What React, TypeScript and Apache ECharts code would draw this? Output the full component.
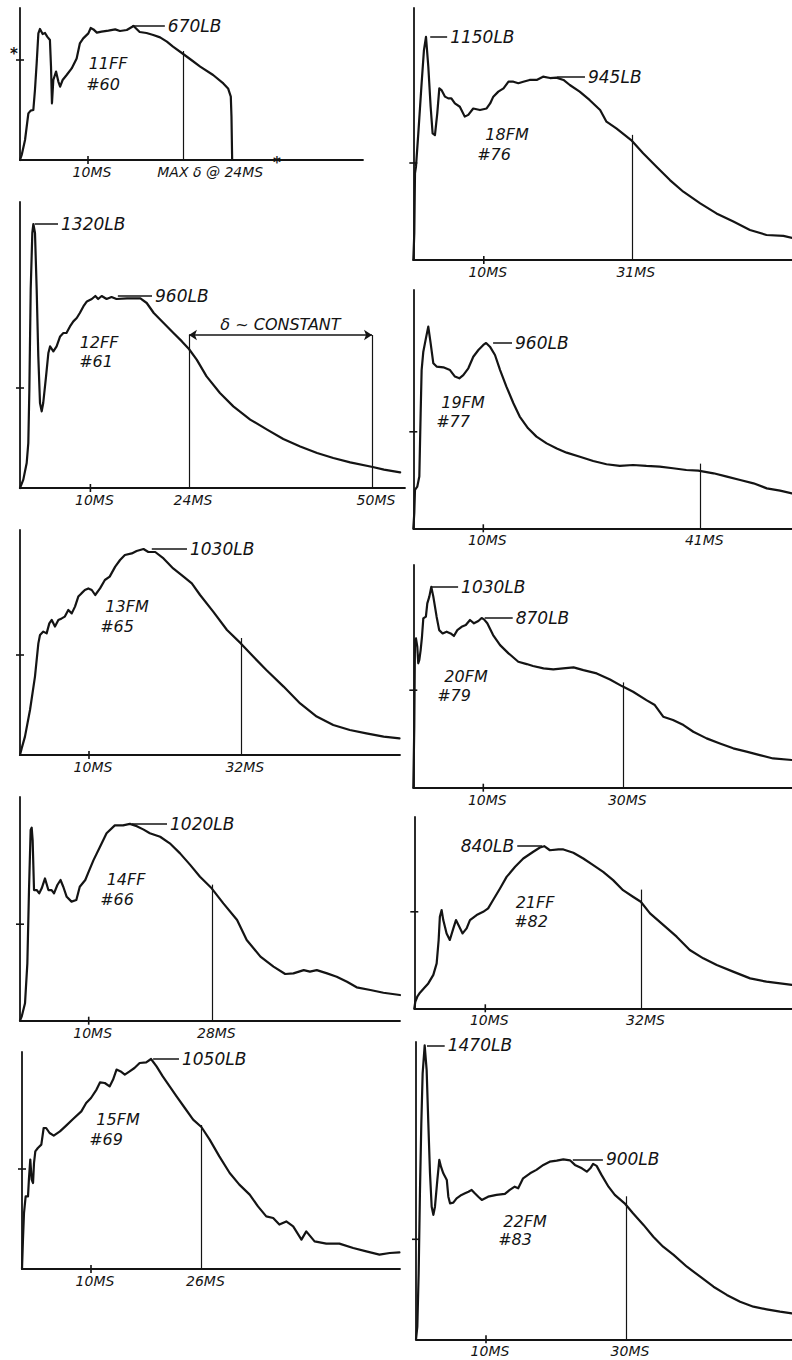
import React, { useEffect, useRef } from "react";
import * as echarts from "echarts";

type Pt = [number, number];

// Load (lb) against time (ms) for each impact test.
const test60: Pt[] = [[0,0],[0.25,25],[0.74,100],[1.23,233],[1.57,247],[1.96,250],[2.2,350],[2.45,483],[2.7,633],[2.94,655],[3.33,630],[3.68,635],[4.0,617],[4.4,600],[4.56,467],[4.7,283],[4.9,400],[5.3,442],[5.64,392],[5.9,367],[6.27,400],[6.86,425],[7.6,458],[8.33,508],[8.8,583],[9.3,608],[10.05,633],[10.4,660],[10.8,653],[11.3,637],[12.0,642],[13.0,647],[14.0,653],[14.7,645],[15.7,650],[16.7,670],[17.6,640],[18.6,635],[19.6,625],[20.6,613],[21.6,592],[22.5,567],[24.0,530],[25.2,500],[26.5,467],[28.4,425],[29.9,383],[30.6,358],[31.0,317],[31.1,217],[31.2,0]];
const test61: Pt[] = [[0,0],[0.47,42],[0.95,125],[1.18,225],[1.33,492],[1.52,992],[1.75,1275],[1.9,1320],[2.13,1275],[2.37,992],[2.6,658],[2.84,425],[3.08,383],[3.3,425],[3.7,558],[4.03,675],[4.27,708],[4.74,683],[5.2,708],[5.7,758],[6.16,775],[6.6,775],[7.1,808],[7.58,833],[8.06,850],[8.5,875],[9.0,908],[9.5,933],[10.2,945],[10.7,960],[11.1,945],[11.6,960],[12.3,945],[13.0,955],[13.7,945],[15.2,948],[17.1,948],[18.0,925],[19.0,875],[20.4,825],[21.8,775],[23.0,733],[24.0,695],[25.1,642],[26.5,558],[28.4,475],[30.3,408],[32.7,342],[35.1,292],[37.4,245],[39.8,208],[42.2,175],[44.5,150],[46.9,128],[50.1,105],[51.7,92],[54.0,78]];
const test65: Pt[] = [[0,0],[0.24,33],[0.72,92],[1.45,225],[2.17,392],[2.66,558],[2.9,600],[3.38,617],[3.86,608],[4.25,658],[4.6,675],[5.07,642],[5.56,675],[6.04,683],[6.5,692],[7.0,725],[7.5,708],[7.97,742],[8.45,792],[8.9,808],[9.4,825],[9.9,833],[10.4,825],[10.9,800],[11.6,833],[12.3,875],[13.0,892],[13.8,942],[14.5,975],[15.2,1000],[16.2,1008],[16.9,1020],[17.9,1030],[18.6,1015],[19.6,1015],[20.8,983],[22.2,933],[23.7,892],[24.9,858],[26.1,800],[28.0,717],[30.0,625],[32.0,558],[33.8,492],[35.7,425],[38.2,342],[40.6,258],[43.0,192],[45.4,150],[47.8,125],[50.2,108],[52.7,92],[55.0,83]];
const test66: Pt[] = [[0,0],[0.24,21],[0.73,90],[1.07,297],[1.31,677],[1.55,988],[1.7,1000],[1.84,936],[2.04,677],[2.43,677],[2.8,660],[3.16,686],[3.64,737],[4.13,677],[4.6,677],[4.95,660],[5.44,703],[5.9,729],[6.3,694],[6.8,642],[7.5,617],[8.2,625],[8.7,694],[9.5,729],[10.0,772],[10.7,832],[11.65,901],[12.6,971],[13.8,1012],[15.0,1012],[16.0,1020],[17.0,1008],[18.0,990],[18.9,971],[20.4,953],[21.8,919],[23.3,867],[24.8,806],[26.2,746],[27.9,686],[29.6,608],[31.6,522],[33.0,418],[35.0,332],[36.9,280],[38.6,242],[39.8,245],[41.3,262],[42.2,254],[43.2,262],[44.7,245],[46.1,228],[47.6,202],[49.0,173],[51.0,159],[52.9,145],[55.3,133]];
const test69: Pt[] = [[0,0],[0.14,147],[0.29,280],[0.53,363],[0.87,363],[1.0,447],[1.2,547],[1.4,447],[1.6,430],[1.74,530],[1.93,588],[2.3,605],[2.8,622],[3.14,705],[3.5,705],[4.0,680],[4.6,667],[5.5,688],[6.4,717],[7.4,750],[8.6,788],[9.3,830],[10.0,855],[10.8,897],[11.3,933],[12.0,930],[12.7,913],[13.2,947],[13.7,997],[14.3,988],[14.9,972],[15.6,988],[16.3,1005],[17.05,1030],[18.0,1033],[18.7,1050],[19.5,1013],[20.4,963],[21.4,913],[22.4,863],[23.6,805],[24.8,747],[26.0,710],[27.2,647],[28.6,563],[30.1,480],[31.5,422],[33.0,372],[34.2,313],[35.4,263],[36.4,255],[37.3,222],[38.3,238],[39.3,213],[40.5,147],[41.2,188],[42.4,138],[44.1,127],[46.0,127],[48.0,105],[49.9,88],[51.8,72],[53.3,80],[54.7,83]];
const test76: Pt[] = [[0,0],[0.14,137],[0.24,447],[0.38,481],[0.71,653],[1.18,911],[1.51,1082],[1.8,1150],[2.13,996],[2.46,790],[2.74,653],[3.07,644],[3.4,756],[3.69,885],[4.0,876],[4.5,842],[4.96,833],[5.4,833],[5.9,807],[6.6,790],[7.3,739],[7.8,748],[8.5,781],[9.46,773],[10.4,781],[10.9,807],[11.35,842],[12.06,868],[12.8,885],[13.5,919],[14.2,919],[14.9,911],[15.6,919],[16.5,928],[17.5,928],[18.4,945],[19.4,938],[20.3,940],[21.3,928],[22.2,902],[23.6,868],[25.0,825],[26.5,773],[27.4,713],[28.8,678],[30.9,618],[32.6,550],[34.5,481],[36.4,412],[38.3,352],[40.7,292],[43.0,240],[45.4,198],[47.75,155],[50.1,129],[52.5,124],[53.9,112]];
const test77: Pt[] = [[0,0],[0.14,78],[0.24,199],[0.57,216],[0.86,268],[1.05,596],[1.19,820],[1.43,915],[1.8,984],[2.14,1045],[2.48,958],[2.86,855],[3.33,838],[4.29,834],[5.24,820],[5.95,786],[6.57,777],[7.14,794],[7.86,829],[8.57,889],[9.3,924],[10.0,950],[10.4,960],[10.95,941],[11.67,898],[12.4,820],[13.3,734],[14.3,648],[15.2,579],[16.4,518],[17.6,475],[19.05,440],[20.5,414],[21.9,392],[23.8,371],[25.7,349],[27.6,332],[29.5,323],[31.4,328],[33.3,323],[35.2,320],[37.1,311],[39.0,302],[40.7,299],[42.9,285],[44.8,268],[46.7,250],[48.6,233],[50.5,207],[52.4,195],[54.1,181]];
const test79: Pt[] = [[0,0],[0.14,313],[0.24,757],[0.38,766],[0.57,723],[0.71,638],[0.86,655],[1.05,706],[1.24,774],[1.43,868],[1.8,877],[2.0,945],[2.29,980],[2.57,1030],[2.86,980],[3.33,877],[3.7,808],[4.19,791],[4.76,800],[5.33,791],[5.8,778],[6.29,808],[6.9,825],[7.5,834],[8.1,860],[8.67,843],[9.3,855],[9.76,870],[10.1,863],[10.57,843],[11.4,783],[12.4,731],[13.6,689],[15.0,646],[16.2,634],[17.1,624],[18.6,612],[20.0,607],[21.4,612],[22.9,617],[24.3,603],[26.2,586],[28.1,555],[29.8,521],[31.4,492],[33.3,449],[34.5,424],[35.7,364],[37.1,347],[38.6,321],[40.0,287],[41.9,253],[43.8,227],[45.7,202],[47.6,185],[49.5,167],[51.4,150],[54.1,142]];
const test82: Pt[] = [[0,0],[0.14,34],[0.42,60],[0.8,81],[1.36,104],[1.97,129],[2.68,173],[3.15,233],[3.43,354],[3.6,474],[3.85,509],[4.08,457],[4.55,388],[5.0,354],[5.5,414],[5.87,457],[6.34,423],[6.8,388],[7.37,414],[7.84,457],[8.78,483],[9.7,500],[10.4,518],[11.1,561],[12.07,621],[13.0,681],[14.2,733],[15.35,776],[16.76,811],[17.7,833],[18.3,840],[19.1,819],[20.3,823],[21.0,823],[22.4,806],[23.8,776],[25.2,742],[26.6,707],[28.0,664],[29.4,612],[30.8,578],[31.9,552],[33.2,492],[35.1,431],[36.95,371],[38.8,302],[40.7,259],[42.6,224],[44.9,190],[47.3,155],[49.6,138],[53.2,121]];
const test83: Pt[] = [[0,0],[0.19,63],[0.38,330],[0.57,747],[0.76,1080],[0.95,1330],[1.24,1470],[1.52,1347],[1.76,1080],[2.0,830],[2.24,663],[2.48,622],[2.71,663],[3.05,797],[3.33,897],[3.57,863],[3.9,830],[4.4,797],[4.62,713],[4.86,680],[5.33,683],[5.8,705],[6.5,722],[7.0,730],[7.5,738],[7.95,747],[8.4,730],[8.9,713],[9.4,697],[10.3,713],[11.5,722],[12.7,727],[13.4,747],[14.1,763],[14.6,755],[15.3,805],[16.3,830],[17.2,847],[18.2,872],[19.1,888],[20.1,893],[21.05,900],[22.0,895],[22.7,872],[23.7,855],[24.4,838],[24.9,855],[25.3,877],[25.8,867],[26.5,822],[27.5,763],[28.4,722],[29.8,680],[31.0,630],[32.5,572],[33.9,513],[35.3,463],[36.8,422],[38.7,363],[40.6,313],[42.5,263],[44.4,222],[46.3,188],[48.2,163],[50.1,150],[52.0,138],[53.7,130]];

const traces = [test60, test61, test65, test66, test69, test76, test77, test79, test82, test83];

// Test designations and run numbers
const testCodes = ["11FF", "12FF", "13FM", "14FF", "15FM", "18FM", "19FM", "20FM", "21FF", "22FM"];
const runNumbers = ["#60", "#61", "#65", "#66", "#69", "#76", "#77", "#79", "#82", "#83"];

// Labelled peak loads (lb)
const peakLoads = [[670], [1320, 960], [1030], [1020], [1050], [1150, 945], [960], [1030, 870], [840], [1470, 900]];

// Vertical marker times (ms) and the load (lb) each marker line reaches
const markerTimes = [[24], [24, 50], [32], [28], [26], [31], [41], [30], [32], [30]];
const markerTops = [[545], [765, 765], [585], [705], [720], [645], [335], [540], [615], [715]];

// Axis reference ticks
const tickTime = 10;
const tickLoad = 500;

// Deflection-constant span on run #61 (ms) and its level (lb)
const constantSpan = [24, 50];
const constantLevel = 765;

// ---- layout (pixels) ----
const frames = [
  { left: 20, top: 8, right: 363, bottom: 160, msPx: 6.8, lbPx: 0.2 },
  { left: 20, top: 202, right: 405, bottom: 488, msPx: 7.04, lbPx: 0.2 },
  { left: 20, top: 530, right: 400, bottom: 755, msPx: 6.9, lbPx: 0.2 },
  { left: 20, top: 797, right: 400, bottom: 1020.7, msPx: 6.87, lbPx: 0.193 },
  { left: 22, top: 1052, right: 400, bottom: 1269, msPx: 6.9, lbPx: 0.2 },
  { left: 413.3, top: 8, right: 792, bottom: 260, msPx: 7.05, lbPx: 0.194 },
  { left: 413.3, top: 290, right: 792, bottom: 528.3, msPx: 7.0, lbPx: 0.193 },
  { left: 413.3, top: 565, right: 792, bottom: 787.7, msPx: 7.0, lbPx: 0.195 },
  { left: 414.3, top: 817, right: 792, bottom: 1008.3, msPx: 7.1, lbPx: 0.193 },
  { left: 416, top: 1042, right: 792, bottom: 1339.3, msPx: 7.0, lbPx: 0.2 },
];

// Leader line spans (ms) for each peak callout; a reversed span puts the text on the left
const leaderSpans = [
  [[16.5, 21.3]],
  [[2.1, 5.4], [13.9, 18.75]],
  [[19.1, 24.2]],
  [[16.3, 21.4]],
  [[19.0, 22.75]],
  [[2.4, 4.8], [20.4, 24.35]],
  [[11.4, 14.1]],
  [[2.67, 6.4], [10.2, 14.2]],
  [[18.0, 14.5]],
  [[1.57, 4.1], [22.4, 26.7]],
];

// Centres of the test designation / run number captions
const captionSpots = [
  [[108, 63], [103, 84]],
  [[99, 342], [96, 361]],
  [[127, 606], [117, 626]],
  [[126, 879], [117, 899]],
  [[118, 1119], [106, 1139]],
  [[507, 134], [494, 154]],
  [[463, 402], [453, 421]],
  [[466, 676], [454, 695]],
  [[535, 902], [531, 921]],
  [[525, 1221], [515, 1239]],
];

const INK = "#141414";
const FONT = "'DejaVu Sans', 'Liberation Sans', sans-serif";

function timeLabel(panel: number, v: number): string {
  if (panel === 0 && v === markerTimes[0][0]) return `{m| }MAX δ @ ${v}MS`;
  return `{g| }${v}MS`;
}

export default function App() {
  const ref = useRef<HTMLDivElement>(null);

  useEffect(() => {
    const el = ref.current;
    if (!el) return;
    const chart = echarts.init(el, undefined, { renderer: "svg" });

    const grid = frames.map((f) => ({
      left: f.left,
      top: f.top,
      width: f.right - f.left,
      height: f.bottom - f.top,
      containLabel: false,
      outerBoundsMode: "none",
    }));

    const xAxis = frames.map((f, i) => ({
      type: "value",
      gridIndex: i,
      min: 0,
      max: (f.right - f.left) / f.msPx,
      axisLine: { show: true, onZero: false, lineStyle: { color: INK, width: 1.8 } },
      axisTick: { show: false },
      splitLine: { show: false },
      axisLabel: {
        show: true,
        customValues: [tickTime, ...markerTimes[i]],
        margin: 5,
        fontSize: 14,
        fontFamily: FONT,
        fontStyle: "italic",
        color: INK,
        formatter: (v: number) => timeLabel(i, v),
        rich: { g: { width: 8 }, m: { width: 54 } },
      },
    }));

    const yAxis = frames.map((f, i) => ({
      type: "value",
      gridIndex: i,
      min: 0,
      max: (f.bottom - f.top) / f.lbPx,
      axisLine: { show: true, onZero: false, lineStyle: { color: INK, width: 1.8 } },
      axisTick: { show: false },
      axisLabel: { show: false },
      splitLine: { show: false },
    }));

    const calloutLabel = {
      show: true,
      position: "end",
      distance: 3,
      fontSize: 17,
      fontFamily: FONT,
      fontStyle: "italic",
      color: INK,
    };

    const series = traces.map((data, i) => {
      const markers = markerTimes[i].map((t, k) => [
        { coord: [t, 0] },
        { coord: [t, markerTops[i][k]] },
      ]);
      const leaders = peakLoads[i].map((p, k) => [
        {
          coord: [leaderSpans[i][k][0], p],
          lineStyle: { width: 1.5 },
          label: { ...calloutLabel, formatter: `${p}LB` },
        },
        { coord: [leaderSpans[i][k][1], p] },
      ]);
      const extra =
        i === 1
          ? [
              [
                {
                  coord: [constantSpan[0], constantLevel],
                  symbol: "arrow",
                  symbolSize: 8,
                  lineStyle: { width: 1.5 },
                  label: {
                    show: true,
                    position: "insideMiddleTop",
                    distance: 3,
                    formatter: "δ ~ CONSTANT",
                    fontSize: 16,
                    fontFamily: FONT,
                    fontStyle: "italic",
                    color: INK,
                  },
                },
                { coord: [constantSpan[1], constantLevel], symbol: "arrow", symbolSize: 8 },
              ],
            ]
          : [];
      return {
        type: "line",
        xAxisIndex: i,
        yAxisIndex: i,
        data,
        symbol: "none",
        showSymbol: false,
        clip: false,
        silent: true,
        lineStyle: { color: INK, width: 2.2, join: "round", cap: "round" },
        markLine: {
          silent: true,
          animation: false,
          symbol: ["none", "none"],
          lineStyle: { color: INK, width: 1.2, type: "solid" },
          label: { show: false },
          emphasis: { disabled: true },
          data: [...markers, ...leaders, ...extra],
        },
      };
    });

    chart.setOption({
      animation: false,
      backgroundColor: "#ffffff",
      textStyle: { fontFamily: FONT },
      grid,
      xAxis,
      yAxis,
      series,
    });

    // Captions, stray asterisks and crossing tick marks on both axes
    const graphics: any[] = [];
    captionSpots.forEach((spots, i) => {
      [testCodes[i], runNumbers[i]].forEach((txt, k) => {
        graphics.push({
          type: "text",
          x: spots[k][0],
          y: spots[k][1],
          style: {
            text: txt,
            fontSize: 16,
            fontFamily: FONT,
            fontStyle: "italic",
            fill: INK,
            align: "center",
            verticalAlign: "middle",
          },
        });
      });
    });
    [[14, 54], [277, 163]].forEach(([x, y]) => {
      graphics.push({
        type: "text",
        x,
        y,
        style: { text: "*", fontSize: 15, fontWeight: "bold", fontFamily: FONT, fill: INK, align: "center", verticalAlign: "middle" },
      });
    });
    frames.forEach((_, i) => {
      const xt = chart.convertToPixel({ gridIndex: i }, [tickTime, 0]) as number[];
      const yt = chart.convertToPixel({ gridIndex: i }, [0, tickLoad]) as number[];
      graphics.push({
        type: "line",
        shape: { x1: xt[0], y1: xt[1] - 4, x2: xt[0], y2: xt[1] + 4 },
        style: { stroke: INK, lineWidth: 1.6 },
      });
      graphics.push({
        type: "line",
        shape: { x1: yt[0] - 4, y1: yt[1], x2: yt[0] + 4, y2: yt[1] },
        style: { stroke: INK, lineWidth: 1.6 },
      });
    });
    chart.setOption({ graphic: { elements: graphics } });

    return () => chart.dispose();
  }, []);

  return (
    <div
      ref={ref}
      style={{ position: "absolute", left: 0, top: 0, width: 792, height: 1360, background: "#ffffff" }}
    />
  );
}
